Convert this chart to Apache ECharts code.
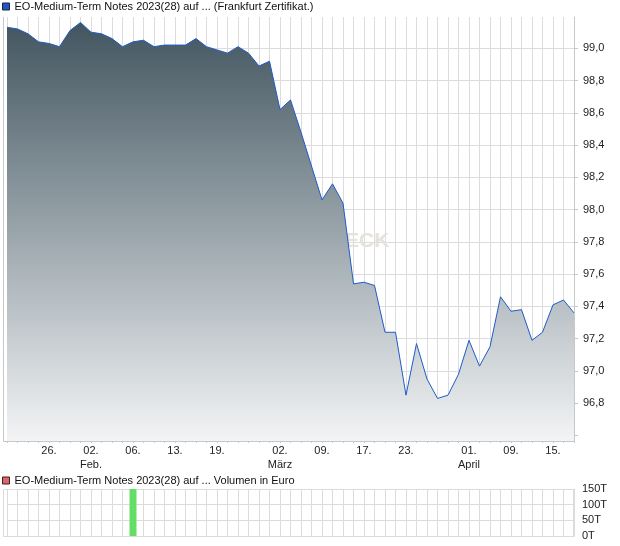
<!DOCTYPE html>
<html><head><meta charset="utf-8">
<script src="https://cdn.jsdelivr.net/npm/echarts@6/dist/echarts.min.js"></script>
<style>html,body{margin:0;padding:0;background:#fff}#c{width:620px;height:546px}</style>
</head><body><div id="c"></div>
<script>
const priceName = 'EO-Medium-Term Notes 2023(28) auf ... (Frankfurt Zertifikat.)';
const volName = 'EO-Medium-Term Notes 2023(28) auf ... Volumen in Euro';

const tickLabels = [
  '', '', '', '', '26.', '', '', '', '02.\nFeb.', '', '',
  '', '06.', '', '', '', '13.', '', '', '', '19.', '',
  '', '', '', '', '02.\nMärz', '', '', '', '09.', '', '',
  '', '17.', '', '', '', '23.', '', '', '', '', '',
  '01.\nApril', '', '', '', '09.', '', '', '', '15.', '', ''
];

const prices = [
  99.13, 99.12, 99.09, 99.04, 99.03, 99.01, 99.11, 99.16, 99.10, 99.09, 99.06,
  99.01, 99.04, 99.05, 99.01, 99.02, 99.02, 99.02, 99.06, 99.01, 98.99, 98.97,
  99.01, 98.97, 98.89, 98.92, 98.62, 98.68, 98.48, 98.27, 98.06, 98.16, 98.04,
  97.54, 97.55, 97.53, 97.24, 97.24, 96.85, 97.17, 96.95, 96.83, 96.85, 96.98,
  97.19, 97.03, 97.15, 97.46, 97.37, 97.38, 97.19, 97.24, 97.41, 97.44, 97.36
];

const volumes = [
  0, 0, 0, 0, 0, 0, 0, 0, 0, 0, 0,
  0, 150000, 0, 0, 0, 0, 0, 0, 0, 0, 0,
  0, 0, 0, 0, 0, 0, 0, 0, 0, 0, 0,
  0, 0, 0, 0, 0, 0, 0, 0, 0, 0, 0,
  0, 0, 0, 0, 0, 0, 0, 0, 0, 0, 0
];

const yTickLabels = ['96,8', '97,0', '97,2', '97,4', '97,6', '97,8', '98,0', '98,2', '98,4', '98,6', '98,8', '99,0'];

const categories = tickLabels.map((t, i) => 'd' + i);

const FONT = '"Liberation Sans", Arial, sans-serif';
const GRID_C = '#dcdcdc';
const AXIS_C = '#c8c8c8';

const chart = echarts.init(document.getElementById('c'), null, {renderer: 'canvas'});
const option = {
  animation: false,
  backgroundColor: '#fff',
  textStyle: {fontFamily: FONT},
  legend: [
    {
      data: [{name: priceName, itemStyle: {color: '#2257c0', borderColor: '#1a2540', borderWidth: 1}}],
      left: 2, top: 1, padding: 0, itemWidth: 7, itemHeight: 7, icon: 'rect',
      selectedMode: false,
      textStyle: {fontFamily: FONT, fontSize: 11, color: '#111'}
    },
    {
      data: [{name: volName, itemStyle: {color: '#e06666', borderColor: '#3a2020', borderWidth: 1}}],
      left: 2, top: 475, padding: 0, itemWidth: 7, itemHeight: 7, icon: 'rect',
      selectedMode: false,
      textStyle: {fontFamily: FONT, fontSize: 11, color: '#111'}
    }
  ],
  grid: [
    {left: 7, right: 46, top: 17, bottom: 105},
    {left: 7, right: 46, top: 489, bottom: 10}
  ],
  xAxis: [
    {
      type: 'category', gridIndex: 0, data: categories, boundaryGap: false,
      axisLine: {show: true, lineStyle: {color: AXIS_C}},
      axisTick: {show: true, interval: 0, length: 2, lineStyle: {color: AXIS_C}},
      axisLabel: {
        interval: 0, margin: 3, fontSize: 11, color: '#222', lineHeight: 14,
        fontFamily: FONT,
        formatter: (v, i) => tickLabels[i]
      },
      splitLine: {show: true, interval: 0, lineStyle: {color: GRID_C}}
    },
    {
      type: 'category', gridIndex: 1, data: categories, boundaryGap: false,
      axisLine: {show: true, lineStyle: {color: GRID_C}},
      axisTick: {show: false},
      axisLabel: {show: false},
      splitLine: {show: true, interval: 0, lineStyle: {color: GRID_C}}
    }
  ],
  yAxis: [
    {
      type: 'value', gridIndex: 0, position: 'right',
      min: 96.566, max: 99.194, splitNumber: 13,
      axisLine: {show: true, lineStyle: {color: AXIS_C}},
      axisTick: {show: true, length: 4, lineStyle: {color: AXIS_C}},
      axisLabel: {
        showMinLabel: false, showMaxLabel: false, margin: 9,
        fontSize: 11, color: '#222', fontFamily: FONT,
        formatter: v => {
          const s = v.toFixed(1).replace('.', ',');
          return yTickLabels.indexOf(s) >= 0 ? s : '';
        }
      },
      splitLine: {show: true, showMaxLine: false, showMinLine: false, lineStyle: {color: GRID_C}}
    },
    {
      type: 'value', gridIndex: 1, position: 'right',
      min: 0, max: 150000, interval: 50000,
      axisLine: {show: true, lineStyle: {color: GRID_C}},
      axisTick: {show: false},
      axisLabel: {
        margin: 8, fontSize: 11, color: '#222', fontFamily: FONT,
        formatter: v => (v / 1000) + 'T'
      },
      splitLine: {show: true, lineStyle: {color: GRID_C}}
    }
  ],
  graphic: [
    {
      type: 'text', z: 1, left: 345, top: 231,
      style: {text: 'ECK', fill: '#e6e2dc', font: 'bold 21px ' + FONT}
    },
    {
      type: 'polyline', z: 0, silent: true,
      shape: {points: [[3.5, 17], [3.5, 441.5], [7, 441.5]]},
      style: {stroke: AXIS_C, lineWidth: 1, fill: null}
    },
    {
      type: 'rect', z: 0, silent: true,
      shape: {x: 3.5, y: 489.5, width: 570, height: 47},
      style: {stroke: GRID_C, lineWidth: 1, fill: null}
    }
  ],
  series: [
    {
      type: 'line', name: priceName, xAxisIndex: 0, yAxisIndex: 0,
      data: prices, symbol: 'none', smooth: false, z: 3,
      lineStyle: {color: '#1f5bc8', width: 1},
      itemStyle: {color: '#1f5bc8'},
      areaStyle: {
        opacity: 1, origin: 'start',
        color: new echarts.graphic.LinearGradient(0, 0, 0, 1, [
          {offset: 0, color: '#42555f'},
          {offset: 0.5, color: '#9aa5ab'},
          {offset: 1, color: '#f3f4f6'}
        ])
      }
    },
    {
      type: 'bar', name: volName, xAxisIndex: 1, yAxisIndex: 1,
      data: volumes, barWidth: 7,
      itemStyle: {color: '#66dd66'}
    }
  ]
};
chart.setOption(option);
</script>
</body></html>
